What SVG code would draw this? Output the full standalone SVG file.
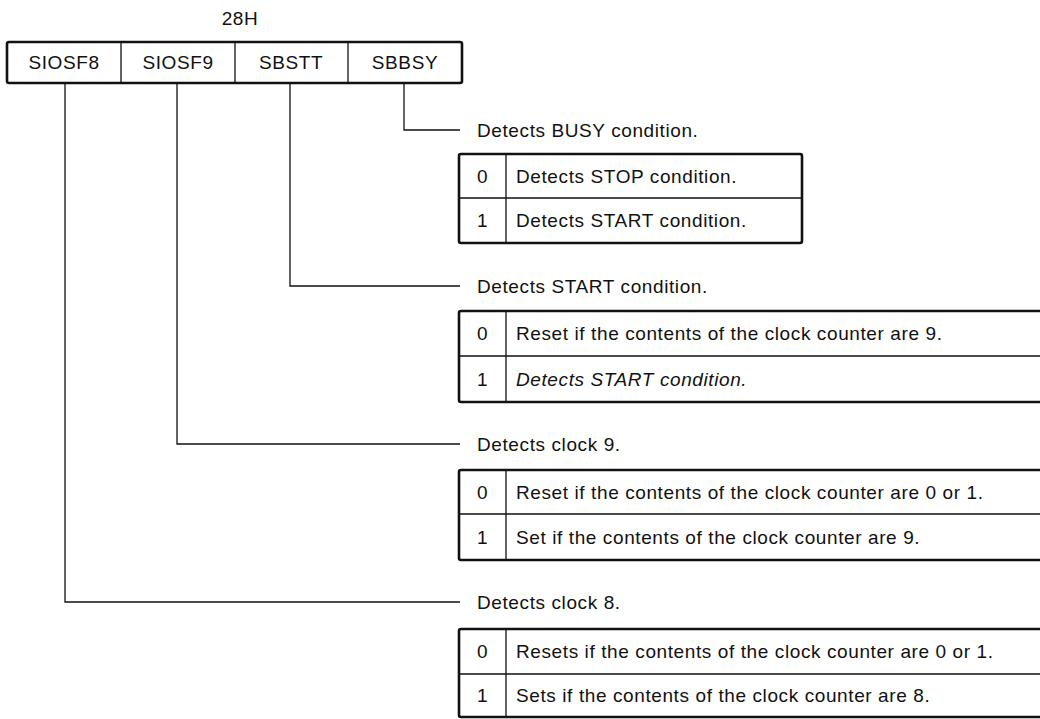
<svg xmlns="http://www.w3.org/2000/svg" width="1040" height="719" viewBox="0 0 1040 719">
<style>
text{font-family:"Liberation Sans",Arial,sans-serif;font-size:19px;fill:#111;letter-spacing:0.6px}
.c{text-anchor:middle}
.box{fill:none;stroke:#111;stroke-width:2.6}
.thin{fill:none;stroke:#111;stroke-width:1.3}
.conn{fill:none;stroke:#111;stroke-width:1.3}
</style>
<rect width="1040" height="719" fill="#fff"/>
<g id="register">
<text class="c" x="240" y="25">28H</text>
<rect class="box" x="7" y="42" width="455" height="41" rx="2"/>
<path class="thin" d="M121 42V83M235 42V83M348 42V83"/>
<text class="c" x="64" y="69">SIOSF8</text>
<text class="c" x="178" y="69">SIOSF9</text>
<text class="c" x="291" y="69">SBSTT</text>
<text class="c" x="405" y="69">SBBSY</text>
</g>
<g id="connectors">
<path class="conn" d="M404 84V130H460"/>
<path class="conn" d="M290 84V286H460"/>
<path class="conn" d="M177 84V444H460"/>
<path class="conn" d="M65 84V602H460"/>
</g>
<g id="sbbsy">
<text x="477" y="137">Detects BUSY condition.</text>
<rect class="box" x="459" y="154" width="343" height="89" rx="2"/>
<path class="thin" d="M506 154V243M459 198H802"/>
<text class="c" x="482.5" y="183">0</text>
<text x="516" y="183">Detects STOP condition.</text>
<text class="c" x="482.5" y="227">1</text>
<text x="516" y="227">Detects START condition.</text>
</g>
<g id="sbstt">
<text x="477" y="293">Detects START condition.</text>
<rect class="box" x="459" y="311" width="600" height="91" rx="2"/>
<path class="thin" d="M506 311V402M459 356H1040"/>
<text class="c" x="482.5" y="340">0</text>
<text x="516" y="340">Reset if the contents of the clock counter are 9.</text>
<text class="c" x="482.5" y="386">1</text>
<text x="516" y="386" font-style="italic">Detects START condition.</text>
</g>
<g id="siosf9">
<text x="477" y="451">Detects clock 9.</text>
<rect class="box" x="459" y="470" width="600" height="90" rx="2"/>
<path class="thin" d="M506 470V560M459 514H1040"/>
<text class="c" x="482.5" y="499">0</text>
<text x="516" y="499">Reset if the contents of the clock counter are 0 or 1.</text>
<text class="c" x="482.5" y="544">1</text>
<text x="516" y="544">Set if the contents of the clock counter are 9.</text>
</g>
<g id="siosf8">
<text x="477" y="609">Detects clock 8.</text>
<rect class="box" x="459" y="629" width="600" height="88" rx="2"/>
<path class="thin" d="M506 629V717M459 674H1040"/>
<text class="c" x="482.5" y="658">0</text>
<text x="516" y="658">Resets if the contents of the clock counter are 0 or 1.</text>
<text class="c" x="482.5" y="702">1</text>
<text x="516" y="702">Sets if the contents of the clock counter are 8.</text>
</g>
</svg>
